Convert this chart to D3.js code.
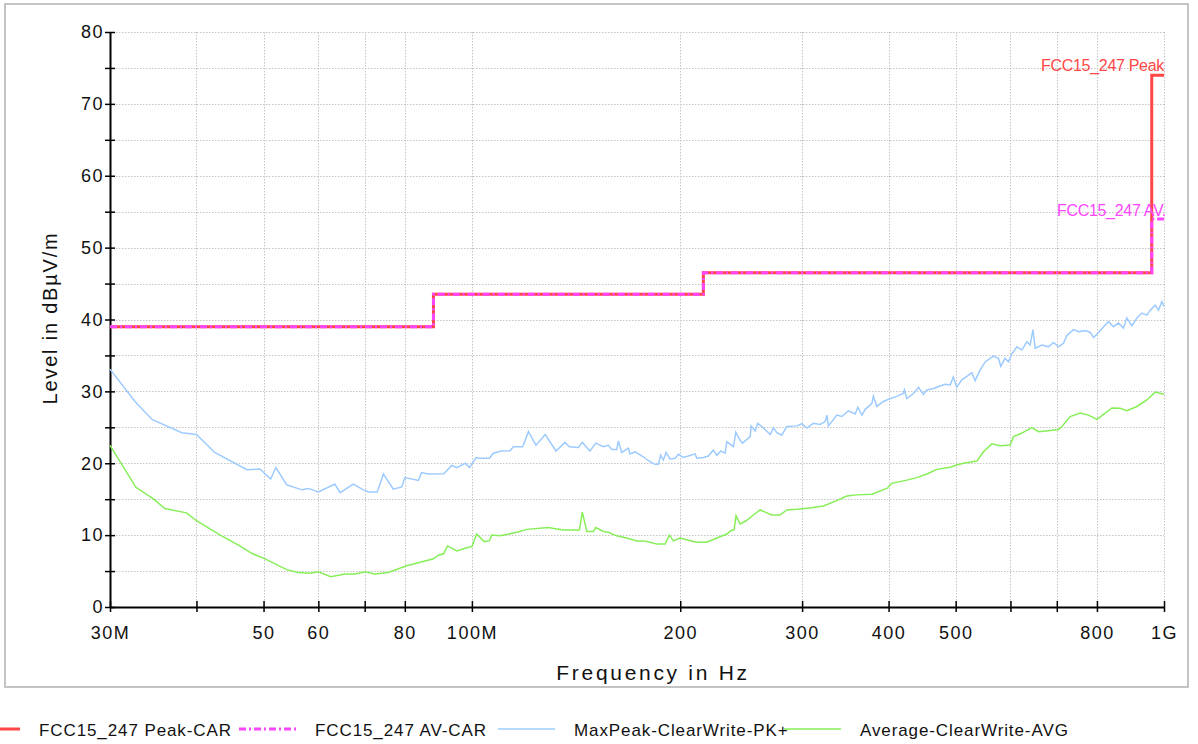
<!DOCTYPE html>
<html>
<head>
<meta charset="utf-8">
<script src="https://d3js.org/d3.v7.min.js"></script>
<style>
    body { margin: 0; background: #fff; }
    svg { display: block; font-family: "Liberation Sans", Arial, sans-serif; }
</style>
</head>
<body>
<div id="chart"></div>
<script>
// Frequencies in MHz, levels in dBuV/m

// Limit lines (step after each edge)
const limitEdges = [30, 88, 216, 960, 1000];
const peakLimit = [39, 43.5, 46.5, 74, 74];
const avLimit = [39, 43.5, 46.5, 54, 54];

// MaxPeak-ClearWrite-PK+
const maxPeakFreq = [30, 32.6, 34.5, 38.1, 40.0, 42.5, 47.3, 49.4, 51.2, 52.1, 54.0, 56.8, 58.0, 60.0, 63.4, 64.5, 67.4, 69.7, 70.9, 73.0,
    74.5, 77.0, 79.2, 80.0, 83.7, 84.6, 86.5, 91.1, 93.5, 95.1, 97.8, 99.2, 101.4, 102.8, 106.0, 107.4, 110.4, 113.5, 114.8, 118.4,
    120.7, 123.8, 127.6, 132.3, 136.3, 138.3, 142.5, 144.4, 148.1, 151.0, 154.9, 157.5, 159.3, 161.9, 162.8, 164.6, 168.3, 169.2, 172.1, 176.9,
    179.9, 183.9, 186.0, 187.4, 189.1, 190.8, 193.3, 196.6, 198.8, 202.1, 205.5, 210.1, 211.3, 216.0, 219.7, 223.3, 225.9, 228.9, 232.2, 233.5,
    238.7, 240.6, 244.1, 246.0, 252.4, 253.2, 256.6, 258.9, 263.8, 269.8, 272.7, 275.8, 280.4, 285.1, 294.8, 299.7, 304.8, 311.4, 318.5, 323.9,
    325.8, 327.5, 336.7, 342.4, 350.0, 357.9, 361.1, 366.1, 370.0, 378.3, 380.3, 384.6, 393.2, 402.1, 411.1, 420.2, 421.6, 425.0, 434.5, 441.8,
    449.2, 454.3, 464.4, 474.8, 482.8, 490.9, 496.2, 501.8, 510.4, 518.9, 527.6, 533.5, 542.4, 551.6, 560.8, 567.0, 576.4, 581.0, 589.4, 595.9,
    602.7, 612.9, 623.2, 633.7, 640.7, 646.5, 651.5, 666.2, 681.0, 692.5, 704.1, 715.9, 724.1, 740.1, 752.5, 769.5, 782.4, 791.1, 804.3, 817.7,
    831.4, 845.3, 859.4, 873.8, 883.7, 898.5, 913.7, 929.0, 944.6, 955.1, 971.2, 981.9, 993.0, 1000];
const maxPeakLevel = [33.1, 28.6, 26.1, 24.25, 24.0, 21.5, 19.1, 19.2, 17.8, 19.4, 17.0, 16.3, 16.5, 16.0, 17.1, 15.9, 17.1, 16.3, 16.0, 16.0,
    18.5, 16.4, 16.7, 18.0, 17.6, 18.7, 18.5, 18.55, 19.7, 19.4, 20.0, 19.4, 20.8, 20.7, 20.7, 21.4, 21.7, 21.75, 22.3, 22.3,
    24.4, 22.5, 24.0, 21.7, 22.9, 22.3, 22.2, 22.9, 21.7, 22.8, 22.3, 22.5, 21.9, 21.9, 23.1, 21.5, 22.1, 21.3, 21.6, 20.9,
    20.35, 19.85, 19.85, 21.15, 20.45, 21.5, 20.6, 20.7, 21.25, 20.8, 21.0, 21.3, 20.7, 20.8, 21.0, 21.85, 21.1, 21.7, 21.4, 23.0,
    22.3, 24.3, 23.2, 22.8, 23.7, 25.2, 24.5, 25.55, 24.9, 24.0, 24.95, 24.25, 23.9, 25.1, 25.2, 25.5, 24.9, 25.55, 25.4, 25.8,
    26.7, 25.2, 26.7, 26.5, 27.3, 26.85, 27.8, 26.7, 27.5, 28.3, 29.35, 27.9, 28.6, 29.0, 29.3, 29.7, 30.2, 29.0, 29.7, 30.55,
    29.6, 30.2, 30.4, 30.75, 31.0, 30.9, 32.0, 30.55, 31.6, 32.1, 32.6, 31.5, 33.0, 34.1, 34.6, 34.9, 34.6, 33.5, 34.6, 34.1,
    35.2, 36.2, 35.75, 36.9, 36.45, 38.6, 36.0, 36.45, 36.2, 36.8, 36.2, 36.7, 37.8, 38.6, 38.3, 38.45, 38.2, 37.5, 38.2, 39.0,
    39.7, 39.0, 39.5, 38.8, 40.2, 39.1, 40.2, 40.9, 40.6, 41.3, 42.0, 41.3, 42.5, 41.8];

// Average-ClearWrite-AVG
const averageFreq = [30, 32.7, 34.7, 36.0, 38.7, 40.0, 43.3, 46.2, 48.2, 50.0, 54.0, 56.1, 58.4, 60.0, 62.5, 65.6, 67.8, 70.1, 72.4, 75.7,
    80.5, 88.0, 89.5, 91.0, 92.2, 95.1, 98.3, 100.0, 101.6, 104.2, 106.0, 106.8, 109.8, 116.1, 120.0, 129.0, 132.6, 135.6, 143.0, 144.4,
    146.6, 149.8, 151.0, 154.9, 157.5, 161.9, 167.4, 173.1, 176.9, 180.9, 185.0, 190.2, 192.9, 195.5, 199.9, 205.5, 211.3, 218.5, 225.9, 233.5,
    237.4, 239.2, 240.8, 244.1, 249.0, 255.1, 260.9, 271.2, 278.8, 285.1, 294.8, 309.9, 322.1, 336.7, 348.1, 359.8, 378.3, 397.7, 404.3, 425.0,
    439.4, 454.3, 469.6, 490.9, 501.8, 513.1, 536.6, 548.5, 564.0, 579.7, 599.4, 606.0, 623.2, 644.2, 658.7, 684.9, 704.1, 712.0, 731.9, 756.7,
    777.8, 800.2, 817.7, 840.9, 864.5, 883.7, 913.7, 944.6, 971.2, 1000];
const averageLevel = [22.5, 16.65, 15.0, 13.7, 13.1, 12.0, 10.0, 8.5, 7.4, 6.8, 5.2, 4.8, 4.7, 4.9, 4.2, 4.6, 4.6, 4.9, 4.6, 4.8,
    5.75, 6.7, 7.2, 7.4, 8.5, 7.8, 8.25, 8.4, 10.15, 9.1, 9.2, 10.0, 9.9, 10.4, 10.8, 11.05, 10.85, 10.7, 10.7, 13.2,
    10.5, 10.5, 11.05, 10.5, 10.4, 9.9, 9.6, 9.2, 9.2, 9.0, 8.75, 8.75, 10.0, 9.2, 9.6, 9.3, 9.0, 9.0, 9.6, 10.15,
    10.7, 10.7, 12.7, 11.55, 12.0, 12.8, 13.5, 12.8, 12.8, 13.5, 13.6, 13.8, 14.05, 14.8, 15.45, 15.6, 15.7, 16.5, 17.2, 17.65,
    18.0, 18.5, 19.15, 19.45, 19.75, 20.0, 20.3, 21.6, 22.7, 22.45, 22.55, 23.7, 24.2, 24.95, 24.4, 24.55, 24.7, 25.1, 26.5, 27.0,
    26.7, 26.1, 26.8, 27.7, 27.65, 27.3, 27.9, 28.8, 29.9, 29.6];

// Axis ticks
const xTicks = [30, 40, 50, 60, 70, 80, 100, 200, 300, 400, 500, 600, 700, 800, 1000];
const xTickLabels = ["30M", "", "50", "60", "", "80", "100M", "200", "300", "400", "500", "", "", "800", "1G"];
const yTicks = [0, 5, 10, 15, 20, 25, 30, 35, 40, 45, 50, 55, 60, 65, 70, 75, 80];

const legendNames = ["FCC15_247 Peak-CAR", "FCC15_247 AV-CAR", "MaxPeak-ClearWrite-PK+", "Average-ClearWrite-AVG"];

const styles = {
    peak: { stroke: "#ff4646", width: 3, dash: null },
    av: { stroke: "#ff46ff", width: 3, dash: "7,3,2,3" },
    maxPeak: { stroke: "#9dcbff", width: 1.5, dash: null },
    average: { stroke: "#86ef57", width: 1.5, dash: null },
    grid: "#c4c4c4"
};

const width = 1198, height = 744;
const plot = { left: 110, right: 1164, top: 32, bottom: 607 };

const svg = d3.select("#chart").append("svg")
    .attr("width", width)
    .attr("height", height);

svg.append("rect")
    .attr("x", 5).attr("y", 4)
    .attr("width", 1183).attr("height", 683)
    .attr("fill", "#fff")
    .attr("stroke", "#c4c4c4")
    .attr("stroke-width", 2);

const x = d3.scaleLog().domain([30, 1000]).range([plot.left, plot.right]);
const y = d3.scaleLinear().domain([0, 80]).range([plot.bottom, plot.top]);

// grid
const grid = svg.append("g")
    .attr("stroke", styles.grid)
    .attr("stroke-width", 1)
    .attr("stroke-dasharray", "1.5,1.5");

grid.selectAll(".hgrid")
    .data(yTicks.filter(d => d > 0))
    .enter().append("line")
    .attr("x1", plot.left).attr("x2", plot.right)
    .attr("y1", d => Math.round(y(d)) + 0.5)
    .attr("y2", d => Math.round(y(d)) + 0.5);

grid.selectAll(".vgrid")
    .data(xTicks.filter(d => d > 30))
    .enter().append("line")
    .attr("y1", plot.top).attr("y2", plot.bottom)
    .attr("x1", d => Math.round(x(d)) + 0.5)
    .attr("x2", d => Math.round(x(d)) + 0.5);

// axes
const tickFont = g => g.selectAll("text")
    .attr("fill", "#111")
    .style("font-size", "18px")
    .style("letter-spacing", "1.5px");

const yAxis = svg.append("g")
    .attr("transform", `translate(${plot.left},0)`)
    .call(d3.axisLeft(y).tickValues(yTicks).tickSize(5).tickSizeOuter(0).tickPadding(1)
        .tickFormat(d => d % 10 === 0 ? d : ""))
    .call(tickFont);
yAxis.selectAll(".tick line").attr("x1", 5).attr("x2", -5).attr("stroke-width", 1.5);
yAxis.select(".domain").attr("stroke-width", 2);

const xAxis = svg.append("g")
    .attr("transform", `translate(0,${plot.bottom})`)
    .call(d3.axisBottom(x).tickValues(xTicks).tickSize(5).tickSizeOuter(0).tickPadding(14)
        .tickFormat((d, i) => xTickLabels[i]))
    .call(tickFont);
xAxis.selectAll(".tick line").attr("y1", -6).attr("y2", 5).attr("stroke-width", 1.5);
xAxis.select(".domain").attr("stroke-width", 2);

// axis titles
svg.append("text")
    .attr("x", 653).attr("y", 680)
    .attr("text-anchor", "middle")
    .style("font-size", "21px")
    .style("letter-spacing", "2.7px")
    .attr("fill", "#111")
    .text("Frequency in Hz");

svg.append("text")
    .attr("transform", "translate(57,318) rotate(-90)")
    .attr("text-anchor", "middle")
    .style("font-size", "20px")
    .style("letter-spacing", "1.8px")
    .attr("fill", "#111")
    .text("Level in dBµV/m");

// series
const line = d3.line().x(d => x(d[0])).y(d => y(d[1]));
const stepLine = d3.line().x(d => x(d[0])).y(d => y(d[1])).curve(d3.curveStepAfter);

const drawPath = (pts, st, gen) => svg.append("path")
    .datum(pts)
    .attr("fill", "none")
    .attr("stroke", st.stroke)
    .attr("stroke-width", st.width)
    .attr("stroke-dasharray", st.dash)
    .attr("stroke-linejoin", "miter")
    .attr("d", gen);

drawPath(maxPeakFreq.map((f, i) => [f, maxPeakLevel[i]]), styles.maxPeak, line);
drawPath(averageFreq.map((f, i) => [f, averageLevel[i]]), styles.average, line);
drawPath(limitEdges.map((f, i) => [f, peakLimit[i]]), styles.peak, stepLine);
drawPath(limitEdges.map((f, i) => [f, avLimit[i]]), styles.av, stepLine);

// limit labels
svg.append("text")
    .attr("x", x(1000)).attr("y", y(peakLimit[peakLimit.length - 1]) - 4)
    .attr("text-anchor", "end")
    .style("font-size", "16px")
    .style("letter-spacing", "-0.3px")
    .attr("fill", styles.peak.stroke)
    .text("FCC15_247 Peak");

svg.append("text")
    .attr("x", x(1000) + 2).attr("y", y(avLimit[avLimit.length - 1]) - 3)
    .attr("text-anchor", "end")
    .style("font-size", "16px")
    .style("letter-spacing", "-0.3px")
    .attr("fill", styles.av.stroke)
    .text("FCC15_247 AV.");

// legend
const legendX = [39, 315, 574, 860];
const legendStyles = [styles.peak, styles.av, styles.maxPeak, styles.average];
const legend = svg.append("g");
legendNames.forEach((name, i) => {
    const st = legendStyles[i];
    legend.append("line")
        .attr("x1", legendX[i] - 76).attr("x2", legendX[i] - 19)
        .attr("y1", 729).attr("y2", 729)
        .attr("stroke", st.stroke)
        .attr("stroke-width", st.width === 3 ? 3 : 1.5)
        .attr("stroke-dasharray", st.dash);
    legend.append("text")
        .attr("x", legendX[i]).attr("y", 736)
        .style("font-size", "17px")
        .style("letter-spacing", "0.9px")
        .attr("fill", "#111")
        .text(name);
});
</script>
</body>
</html>
